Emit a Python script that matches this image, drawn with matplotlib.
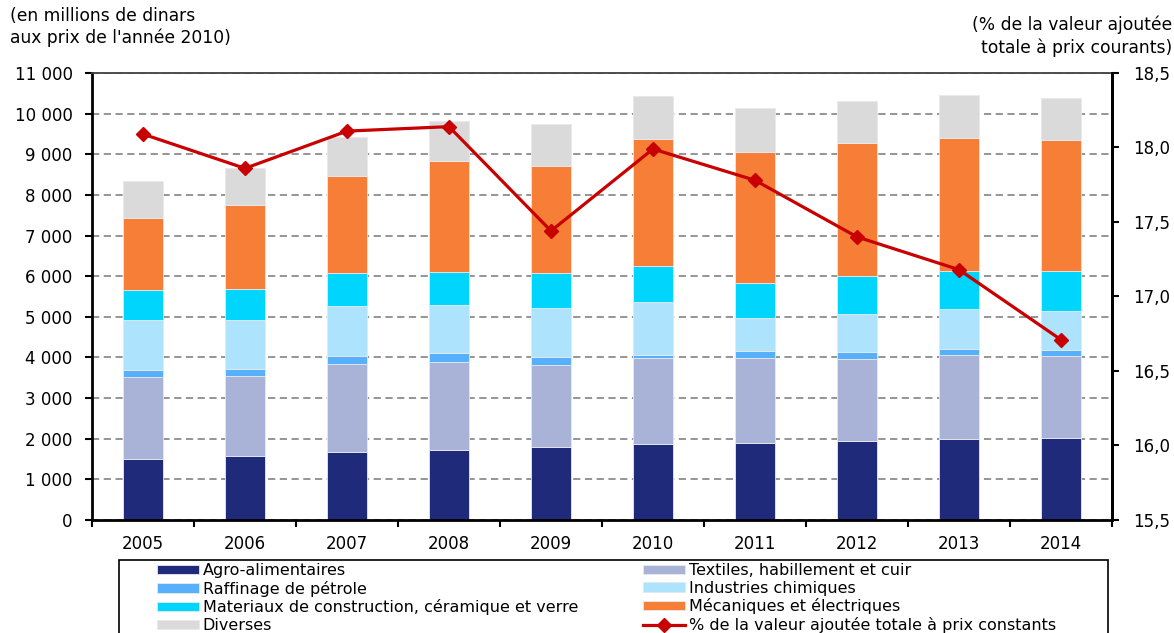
import numpy as np
import matplotlib
matplotlib.use("Agg")
import matplotlib.pyplot as plt
from matplotlib.patches import Rectangle
from matplotlib.ticker import FuncFormatter, MultipleLocator

years = ["2005", "2006", "2007", "2008", "2009", "2010", "2011", "2012", "2013", "2014"]

# value added by branch (millions of dinars, 2010 prices)
agro = [1500, 1575, 1675, 1720, 1790, 1870, 1885, 1950, 1995, 2025]
textiles = [2030, 1970, 2155, 2180, 2025, 2125, 2100, 2020, 2065, 2010]
raffinage = [165, 170, 215, 205, 190, 65, 165, 170, 150, 155]
chimiques = [1215, 1205, 1225, 1190, 1220, 1310, 810, 935, 975, 960]
materiaux = [740, 765, 805, 820, 855, 885, 860, 925, 950, 985]
mecaniques = [1780, 2065, 2400, 2715, 2640, 3120, 3240, 3275, 3270, 3215]
diverses = [910, 910, 950, 990, 1015, 1060, 1075, 1035, 1045, 1035]

# share of total value added (%, right axis)
part_va = [18.09, 17.86, 18.11, 18.14, 17.44, 17.99, 17.78, 17.40, 17.18, 16.71]

series = [
    ("Agro-alimentaires", agro, "#1f2a7b"),
    ("Textiles, habillement et cuir", textiles, "#a9b3d7"),
    ("Raffinage de pétrole", raffinage, "#57b0fc"),
    ("Industries chimiques", chimiques, "#ade3fc"),
    ("Materiaux de construction, céramique et verre", materiaux, "#00d5fd"),
    ("Mécaniques et électriques", mecaniques, "#f67e37"),
    ("Diverses", diverses, "#dadada"),
]

plt.rcParams["font.family"] = ["DejaVu Sans"]
W, H = 1174, 633

fig = plt.figure(figsize=(W / 100, H / 100), dpi=100)
ax = fig.add_axes([92 / W, 1 - 520 / H, 1020 / W, 447 / H])

x = np.arange(len(years))
bottom = np.zeros(len(years))
handles = []
for name, vals, color in series:
    vals = np.array(vals, dtype=float)
    b = ax.bar(x, vals, width=0.4, bottom=bottom, color=color,
               edgecolor="#e8e8ee", linewidth=0.6, label=name, zorder=2)
    handles.append(b)
    bottom += vals

ax.set_xlim(-0.5, len(years) - 0.5)
ax.set_ylim(0, 11000)
ax.yaxis.set_major_locator(MultipleLocator(1000))
ax.yaxis.set_major_formatter(FuncFormatter(lambda v, p: f"{int(v):,}".replace(",", " ")))
ax.grid(axis="y", linestyle=(0, (4, 2.5)), color="#8c8c8c", linewidth=1.3, zorder=0)
ax.set_axisbelow(True)

ax.set_xticks(x)
ax.set_xticklabels(years)
ax.set_xticks(np.arange(len(years) + 1) - 0.5, minor=True)
ax.tick_params(axis="x", which="major", length=0, pad=11, labelsize=12)
ax.tick_params(axis="x", which="minor", length=5, width=1.5, direction="out")
ax.tick_params(axis="y", length=5, width=1.5, direction="out", labelsize=12, pad=9)

ax.spines["top"].set_color("#404040")
ax.spines["top"].set_linewidth(1.3)
for s in ["left", "bottom", "right"]:
    ax.spines[s].set_linewidth(2)
    ax.spines[s].set_color("black")

ax2 = ax.twinx()
ax2.set_ylim(15.5, 18.5)
ax2.yaxis.set_major_locator(MultipleLocator(0.5))
ax2.yaxis.set_major_formatter(FuncFormatter(lambda v, p: f"{v:.1f}".replace(".", ",")))
ax2.tick_params(axis="y", length=5, width=1.5, direction="out", labelsize=12, pad=10)
for s in ["top", "left", "bottom"]:
    ax2.spines[s].set_visible(False)
ax2.spines["right"].set_linewidth(2)
line, = ax2.plot(x, part_va, color="#c80000", linewidth=2.3, marker="D",
                 markersize=7, zorder=5,
                 label="% de la valeur ajoutée totale à prix constants")

fig.text(10 / W, 1 - 7 / H, "(en millions de dinars\naux prix de l'année 2010)",
         ha="left", va="top", fontsize=12.3, linespacing=1.25)
fig.text(1172 / W, 1 - 16 / H, "(% de la valeur ajoutée\ntotale à prix courants)",
         ha="right", va="top", fontsize=12.3, linespacing=1.25, multialignment="right")

# legend: two columns, each its own legend, inside one hand-drawn frame
leg_kw = dict(loc="upper left", fontsize=11.5, frameon=False, handlelength=2.6,
              handleheight=0.5, handletextpad=0.25, labelspacing=0.17,
              borderpad=0, borderaxespad=0)
col1 = [handles[0], handles[2], handles[4], handles[6]]
col2 = [handles[1], handles[3], handles[5], line]
fig.legend(col1, [h.get_label() for h in col1],
           bbox_to_anchor=(157 / W, 1 - 563 / H), **leg_kw)
fig.legend(col2, [h.get_label() for h in col2],
           bbox_to_anchor=(643 / W, 1 - 563 / H), **leg_kw)
fig.patches.append(Rectangle((119 / W, -0.05), (1108 - 119) / W, 1 - 560 / H + 0.05,
                             transform=fig.transFigure, fill=False,
                             edgecolor="black", linewidth=1.2))

fig.savefig("out.png", dpi=100)
